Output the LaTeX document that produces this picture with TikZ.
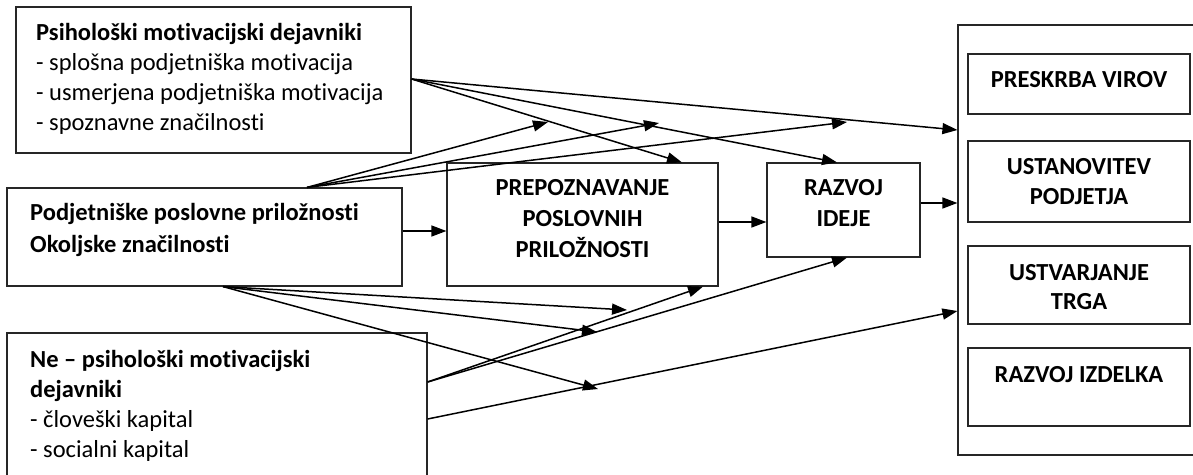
\documentclass[tikz,border=0pt]{standalone}
\usepackage{fontspec}
\setmainfont{Carlito}[Ligatures=NoCommon]
\usetikzlibrary{arrows.meta}
\begin{document}
\begin{tikzpicture}[x=1pt,y=-1pt,
  box/.style={draw=black!85, line width=1.2pt, inner sep=0pt, fill=none},
  conn/.style={line width=1.5pt, -{Triangle[length=15pt,width=11pt]}},
  txt/.style={font=\fontsize{24.5}{30}\selectfont, inner sep=0pt, anchor=base west},
  bold/.style={txt, font=\bfseries\fontsize{24.5}{30}\selectfont},
  captext/.style={font=\bfseries\fontsize{24.5}{30}\selectfont, inner sep=0pt, anchor=base}]
\useasboundingbox (0,0) rectangle (1193,474);

% left-hand factor boxes
\node[box, minimum width=395pt, minimum height=146pt] (A) at (213.5,80) {};
\node[box, minimum width=395pt, minimum height=98pt] (B) at (204.5,237) {};
\node[box, minimum width=420pt, minimum height=157pt] (C) at (217,411.5) {};

% process boxes
\node[box, minimum width=271pt, minimum height=123pt] (P) at (582.5,224.5) {};
\node[box, minimum width=153pt, minimum height=94pt] (R) at (843.5,210) {};

% outcome group
\node[box, minimum width=247pt, minimum height=430pt] (O) at (1081.5,240) {};
\node[box, minimum width=222pt, minimum height=60pt] (S1) at (1079,84) {};
\node[box, minimum width=222pt, minimum height=81pt] (S2) at (1079,181.5) {};
\node[box, minimum width=222pt, minimum height=78pt] (S3) at (1079,285) {};
\node[box, minimum width=222pt, minimum height=78pt] (S4) at (1079,387) {};

% texts of the factor boxes, one node per line
\node[bold] (tA1) at (36,40) {Psihološki motivacijski dejavniki};
\node[txt] (tA2) at (36,70) {- splošna podjetniška motivacija};
\node[txt] (tA3) at (36,100) {- usmerjena podjetniška motivacija};
\node[txt] (tA4) at (36,130) {- spoznavne značilnosti};

\node[bold] (tB1) at (30,220) {Podjetniške poslovne priložnosti};
\node[bold] (tB2) at (30,252) {Okoljske značilnosti};

\node[bold] (tC1) at (30,367) {Ne – psihološki motivacijski};
\node[bold] (tC2) at (30,397) {dejavniki};
\node[txt] (tC3) at (30,427) {- človeški kapital};
\node[txt] (tC4) at (30,457) {- socialni kapital};

% process and outcome labels
\node[captext] (tP1) at (582.5,195.5) {PREPOZNAVANJE};
\node[captext] (tP2) at (582.5,226.5) {POSLOVNIH};
\node[captext] (tP3) at (582.5,257.5) {PRILOŽNOSTI};
\node[captext] (tR1) at (843.5,195.5) {RAZVOJ};
\node[captext] (tR2) at (843.5,226.5) {IDEJE};
\node[captext] (t1) at (1079,87.5) {PRESKRBA VIROV};
\node[captext] (t2a) at (1079,174.5) {USTANOVITEV};
\node[captext] (t2b) at (1079,204.5) {PODJETJA};
\node[captext] (t3a) at (1079,280.5) {USTVARJANJE};
\node[captext] (t3b) at (1079,309.5) {TRGA};
\node[captext] (t4) at (1079,382.5) {RAZVOJ IZDELKA};

% free arrow ends between the boxes
\coordinate (m1) at (548,122);
\coordinate (m2) at (659,123);
\coordinate (m3) at (847,122);
\coordinate (m4) at (627,310);
\coordinate (m5) at (597,332);
\coordinate (m6) at (598,389);

% from the psychological factors
\draw[conn] (A.east |- 0,79) -- (O.west |- 0,130);
\draw[conn] (A.east |- 0,79) -- (682,0 |- P.north);
\draw[conn] (A.east |- 0,79) -- (837,0 |- R.north);

% from business opportunities
\draw[conn] (307,0 |- B.north) -- (m1);
\draw[conn] (307,0 |- B.north) -- (m2);
\draw[conn] (307,0 |- B.north) -- (m3);
\draw[conn] (223,0 |- B.south) -- (m4);
\draw[conn] (223,0 |- B.south) -- (m5);
\draw[conn] (223,0 |- B.south) -- (m6);

% from non-psychological factors
\draw[conn] (C.east |- 0,382) -- (703,0 |- P.south);
\draw[conn] (C.east |- 0,382) -- (847,0 |- R.south);
\draw[conn] (C.east |- 0,419) -- (O.west |- 0,311);

% main process chain
\draw[conn] (B.east |- 0,231) -- (P.west |- 0,231);
\draw[conn] (P.east |- 0,222) -- (R.west |- 0,222);
\draw[conn] (R.east |- 0,203) -- (O.west |- 0,203);
\end{tikzpicture}
\end{document}
